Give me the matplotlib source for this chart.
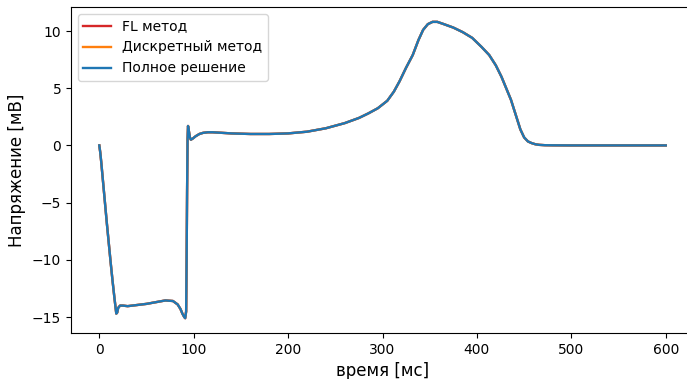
import numpy as np
import matplotlib.pyplot as plt

# membrane voltage samples, time in ms, voltage in mV
t_ms = [0, 1, 2, 4, 6, 8, 10, 12, 14, 16, 17, 18, 19, 20, 22, 25, 30, 40, 50, 60,
        70, 78, 83, 86, 88, 90, 91, 92, 92.5, 93, 93.5, 94, 95, 96, 97, 99, 102,
        106, 110, 115, 120, 130, 140, 160, 180, 200, 220, 240, 260, 275, 285, 295,
        305, 312, 318, 325, 332, 338, 343, 348, 353, 358, 365, 375, 385, 395, 405,
        413, 420, 426, 431, 436, 441, 446, 450, 454, 458, 462, 466, 472, 480, 500,
        550, 600]
v_mv = [0.0, -0.6, -1.4, -3.2, -5.0, -6.8, -8.5, -10.2, -11.8, -13.3, -14.0, -14.7,
        -14.6, -14.2, -14.0, -14.0, -14.05, -13.95, -13.85, -13.7, -13.55, -13.6,
        -13.9, -14.3, -14.7, -15.0, -15.1, -14.5, -10.0, -4.0, 0.5, 1.7, 1.2, 0.7,
        0.5, 0.6, 0.8, 1.0, 1.1, 1.15, 1.15, 1.1, 1.05, 1.0, 1.0, 1.05, 1.2, 1.5,
        1.95, 2.4, 2.8, 3.25, 3.9, 4.7, 5.6, 6.8, 7.9, 9.2, 10.1, 10.6, 10.8, 10.8,
        10.6, 10.3, 9.9, 9.4, 8.6, 7.9, 7.0, 6.0, 5.0, 4.0, 2.7, 1.4, 0.7, 0.35,
        0.2, 0.1, 0.05, 0.02, 0.01, 0.0, 0.0, 0.0]

labels = ['FL метод', 'Дискретный метод', 'Полное решение']
colors = ['#d62728', '#ff7f0e', '#1f77b4']

fig = plt.figure(figsize=(6.87, 3.79), dpi=100)
ax = fig.add_axes([0.1033, 0.1214, 0.907, 0.860])

# all three solutions coincide; full solution drawn last, on top
for lab, col in zip(labels, colors):
    ax.plot(t_ms, v_mv, color=col, linewidth=1.7, label=lab)

ax.set_title('Решение модели', fontsize=12, pad=7.5)
ax.set_xlabel('время [мс]', fontsize=12)
ax.set_ylabel('Напряжение [мВ]', fontsize=12)
ax.set_xticks([0, 100, 200, 300, 400, 500, 600])
ax.set_yticks([-15, -10, -5, 0, 5, 10])
ax.legend(loc='upper left')

fig.savefig('out.png', dpi=100)
